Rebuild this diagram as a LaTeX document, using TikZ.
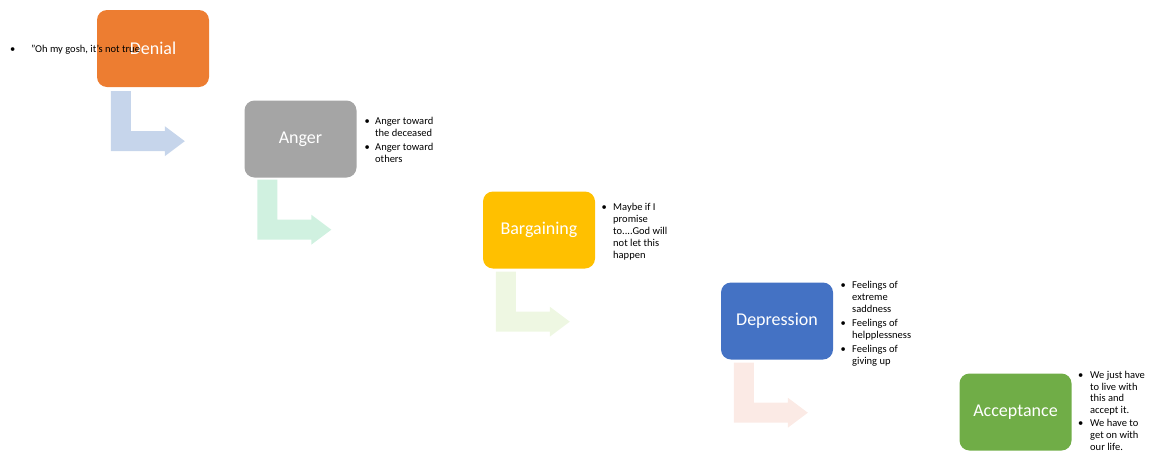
\documentclass[tikz,border=0pt]{standalone}
\usepackage{fontspec}
\setmainfont{Carlito}
\usetikzlibrary{calc}
\definecolor{cDenial}{HTML}{ED7D31}
\definecolor{cAnger}{HTML}{A5A5A5}
\definecolor{cBarg}{HTML}{FFC000}
\definecolor{cDep}{HTML}{4472C4}
\definecolor{cAcc}{HTML}{70AD47}
\definecolor{aBlue}{HTML}{C6D5EB}
\definecolor{aGreen}{HTML}{D0F1E0}
\definecolor{aLime}{HTML}{EEF7E2}
\definecolor{aPink}{HTML}{FBEAE5}
\newcommand{\bl}[1]{\makebox[#1][l]{\textbullet}}
\tikzset{
  stage/.style={rounded corners=10pt, minimum width=112pt, minimum height=77pt,
    inner sep=0pt, text=white, font=\fontsize{18}{21}\selectfont},
  notes/.style={anchor=base west, inner sep=0pt, text=black,
    font=\fontsize{10.5}{12}\selectfont},
  bentarrow/.pic={\fill[pic actions] (0,0) -- (20,0) -- (20,40) -- (54,40) -- (54,35)
    -- (74,50) -- (54,65) -- (54,60) -- (0,60) -- cycle;}
}
\begin{document}
\begin{tikzpicture}[x=1pt,y=-1pt]
\useasboundingbox (0,0) rectangle (1151,453);
% stage boxes
\node[stage, fill=cDenial] (denial) at (153,48.5) {Denial};
\node[stage, fill=cAnger] (anger) at (300.5,139) {Anger};
\node[stage, fill=cBarg] (barg) at (539,230) {Bargaining};
\node[stage, fill=cDep] (dep) at (777,321) {Depression};
\node[stage, fill=cAcc] (acc) at (1015.5,412) {Acceptance};
% bent arrows
\pic[fill=aBlue] at ($(denial.south west)+(14,4)$) {bentarrow};
\pic[fill=aGreen] at ($(anger.south west)+(13,2)$) {bentarrow};
\pic[fill=aLime] at ($(barg.south west)+(13,3)$) {bentarrow};
\pic[fill=aPink] at ($(dep.south west)+(13,3)$) {bentarrow};
% notes
\node[notes] (n1) at (10,52) {\begin{tabular}[t]{@{}l@{}l@{}}\bl{21pt} & "Oh my gosh, it's not true\end{tabular}};
\node[notes] (n2) at (364.5,124) {\begin{tabular}[t]{@{}l@{}l@{}}
\bl{10.5pt} & Anger toward\\ & the deceased\\[2pt]
\bl{10.5pt} & Anger toward\\ & others\end{tabular}};
\node[notes] (n3) at (601.5,210) {\begin{tabular}[t]{@{}l@{}l@{}}
\bl{11.5pt} & Maybe if I\\ & promise\\ & to....God will\\ & not let this\\ & happen\end{tabular}};
\node[notes] (n4) at (840.5,288) {\begin{tabular}[t]{@{}l@{}l@{}}
\bl{11.5pt} & Feelings of\\ & extreme\\ & saddness\\[2pt]
\bl{11.5pt} & Feelings of\\ & helpplessness\\[2pt]
\bl{11.5pt} & Feelings of\\ & giving up\end{tabular}};
\node[notes, font=\fontsize{10.5}{11.6}\selectfont] (n5) at (1078,378.5) {\begin{tabular}[t]{@{}l@{}l@{}}
\bl{12pt} & We just have\\ & to live with\\ & this and\\ & accept it.\\[2pt]
\bl{12pt} & We have to\\ & get on with\\ & our life.\end{tabular}};
\end{tikzpicture}
\end{document}
